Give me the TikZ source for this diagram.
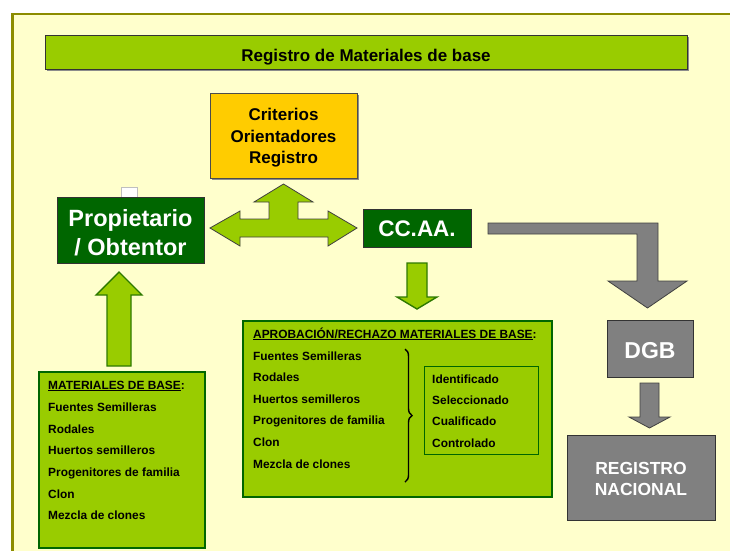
\documentclass[tikz,border=0pt]{standalone}
\usepackage{fontspec}
\setmainfont{Liberation Sans}
\usetikzlibrary{decorations.pathreplacing}
\definecolor{panelbg}{HTML}{FFFFCC}
\definecolor{panelline}{HTML}{8C8C00}
\definecolor{lime}{HTML}{99CC00}
\definecolor{dgreen}{HTML}{006600}
\definecolor{agreen}{HTML}{2E7A00}
\definecolor{gold}{HTML}{FFCC00}
\definecolor{mgray}{HTML}{808080}
\begin{document}
\begin{tikzpicture}[x=1pt,y=-1pt,
  boxnode/.style={inner sep=0pt, outer sep=0pt},
  shadowbox/.style={fill=black!45},
  whitetxt/.style={text=white, inner sep=0pt, anchor=base},
  blacktxt/.style={text=black, inner sep=0pt, anchor=base},
  listtxt/.style={text=black, inner sep=0pt, anchor=base west, font=\fontsize{11.9}{14}\selectfont\bfseries},
  greenarrow/.style={fill=lime, draw=agreen, line width=1.4pt, line join=miter},
  triarrow/.style={fill=lime, draw=black!75, line width=0.8pt, line join=miter},
  grayarrow/.style={fill=mgray, draw=black!75, line width=0.8pt, line join=miter}
]
\useasboundingbox (0,0) rectangle (730,550);
\fill[white] (0,0) rectangle (730,550);
% panel
\fill[panelbg] (12.5,14) rectangle (735,555);
\draw[panelline, line width=2.7pt] (12.5,556) -- (12.5,14) -- (735,14);

% title bar
\fill[shadowbox] (46.5,36.5) rectangle (689,71);
\node[boxnode, draw=black!80, fill=lime, line width=0.8pt, minimum width=642pt, minimum height=34pt] (title) at (366,52) {};
\node[blacktxt, font=\fontsize{17}{20}\selectfont\bfseries] (titletext) at (366,61) {Registro de Materiales de base};

% criterios
\fill[shadowbox] (211.5,94.5) rectangle (358.5,179.5);
\node[boxnode, draw=black!70, fill=gold, line width=0.8pt, minimum width=147pt, minimum height=85pt] (crit) at (283.5,135.5) {};
\node[blacktxt, font=\fontsize{17}{20}\selectfont\bfseries] (crit1) at (283.5,120) {Criterios};
\node[blacktxt, font=\fontsize{17}{20}\selectfont\bfseries] (crit2) at (283.5,142) {Orientadores};
\node[blacktxt, font=\fontsize{17}{20}\selectfont\bfseries] (crit3) at (283.5,163) {Registro};

% small white mark
\node[boxnode, draw=black!25, fill=white, line width=0.5pt, minimum width=16pt, minimum height=12pt] (mark) at (129,193) {};

% propietario
\node[boxnode, draw=black!80, fill=dgreen, line width=0.8pt, minimum width=147pt, minimum height=66pt] (prop) at (130.5,230) {};
\node[whitetxt, font=\fontsize{23.5}{26}\selectfont\bfseries] (prop1) at (130.5,226) {Propietario};
\node[whitetxt, font=\fontsize{23.5}{26}\selectfont\bfseries] (prop2) at (130.5,255) {/ Obtentor};

% CC.AA.
\node[boxnode, draw=black!80, fill=dgreen, line width=0.8pt, minimum width=108pt, minimum height=38pt] (ccaa) at (417,228) {};
\node[whitetxt, font=\fontsize{22.5}{25}\selectfont\bfseries] (ccaatext) at (417,236) {CC.AA.};

% triple arrow
\draw[triarrow] (210,228) -- (240,211) -- (240,219) -- (269,219) -- (269,202) -- (254,202) -- (283.5,184) -- (313,202) -- (298,202) -- (298,219) -- (328,219) -- (328,211) -- (357,228) -- (328,246) -- (328,237) -- (240,237) -- (240,246) -- cycle;

% green down arrow from CC.AA.
\draw[greenarrow] (407,263) -- (427,263) -- (427,297) -- (437,297) -- (417,309) -- (397,297) -- (407,297) -- cycle;

% gray bent arrow
\draw[grayarrow] (488,223) -- (658,223) -- (658,281) -- (687,281) -- (647.5,308) -- (608,281) -- (637,281) -- (637,234) -- (488,234) -- cycle;

% DGB
\node[boxnode, draw=black!80, fill=mgray, line width=0.8pt, minimum width=86pt, minimum height=57pt] (dgb) at (650,348.5) {};
\node[whitetxt, font=\fontsize{23}{26}\selectfont\bfseries] (dgbtext) at (650,358) {DGB};

% gray small arrow
\draw[grayarrow] (640,383) -- (659,383) -- (659,417) -- (670,417) -- (649.5,428) -- (629,417) -- (640,417) -- cycle;

% registro nacional
\node[boxnode, draw=black!80, fill=mgray, line width=0.8pt, minimum width=148pt, minimum height=85pt] (regnac) at (641,477.5) {};
\node[whitetxt, font=\fontsize{17.5}{20}\selectfont\bfseries] (reg1) at (641,474) {REGISTRO};
\node[whitetxt, font=\fontsize{17.5}{20}\selectfont\bfseries] (reg2) at (641,495) {NACIONAL};

% green up arrow
\draw[greenarrow] (107,366) -- (107,295) -- (96,295) -- (119,272) -- (142,295) -- (131,295) -- (131,366) -- cycle;

% materiales de base box
\node[boxnode, draw=dgreen, fill=lime, line width=2pt, minimum width=166pt, minimum height=176pt] (mat) at (122,460) {};
\node[listtxt] (m0) at (48,389) {\underline{MATERIALES DE BASE}:};
\node[listtxt] (m1) at (48,411) {Fuentes Semilleras};
\node[listtxt] (m2) at (48,433) {Rodales};
\node[listtxt] (m3) at (48,454) {Huertos semilleros};
\node[listtxt] (m4) at (48,476) {Progenitores de familia};
\node[listtxt] (m5) at (48,498) {Clon};
\node[listtxt] (m6) at (48,519) {Mezcla de clones};

% aprobacion box
\node[boxnode, draw=dgreen, fill=lime, line width=2pt, minimum width=309pt, minimum height=176pt] (apr) at (397.5,409) {};
\node[listtxt] (a0) at (253,338) {\underline{APROBACIÓN/RECHAZO MATERIALES DE BASE}:};
\node[listtxt] (a1) at (253,360) {Fuentes Semilleras};
\node[listtxt] (a2) at (253,381) {Rodales};
\node[listtxt] (a3) at (253,403) {Huertos semilleros};
\node[listtxt] (a4) at (253,424) {Progenitores de familia};
\node[listtxt] (a5) at (253,446) {Clon};
\node[listtxt] (a6) at (253,468) {Mezcla de clones};

% brace
\draw[decorate, decoration={brace, amplitude=7pt}, line width=1.4pt] (405,349) -- (405,482);

% inner box
\node[boxnode, draw=dgreen, fill=lime, line width=1pt, minimum width=114pt, minimum height=88pt] (inner) at (481,410) {};
\node[listtxt] (i1) at (432,383) {Identificado};
\node[listtxt] (i2) at (432,404) {Seleccionado};
\node[listtxt] (i3) at (432,425) {Cualificado};
\node[listtxt] (i4) at (432,447) {Controlado};
\end{tikzpicture}
\end{document}
